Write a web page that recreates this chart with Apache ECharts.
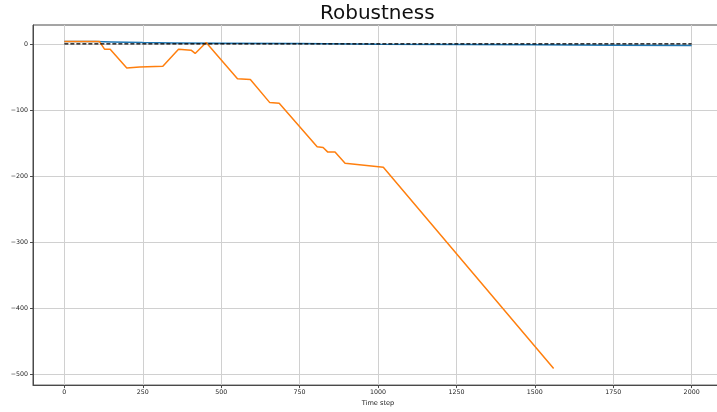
<!DOCTYPE html>
<html>
<head>
<meta charset="utf-8">
<script src="https://cdn.jsdelivr.net/npm/echarts@6/dist/echarts.min.js"></script>
<style>
html,body{margin:0;padding:0;background:#fff;overflow:hidden;}
#chart{width:740px;height:412px;}
</style>
</head>
<body>
<div id="chart"></div>
<script>
var titleText = "Robustness";
var xAxisName = "Time step";
var xTicks = [0, 250, 500, 750, 1000, 1250, 1500, 1750, 2000];
var yTicks = [-500, -400, -300, -200, -100, 0];

var blueX = [0, 100, 150, 250, 350, 500, 750, 1000, 1250, 1500, 1750, 2000];
var blueY = [3.5, 3.5, 3, 2, 1.5, 1, 0.5, -0.5, -1, -1.5, -2, -2.5];

var orangeX = [0, 112, 128, 146, 199, 240, 314, 364, 404, 417, 452, 552, 593, 655, 685, 806, 825, 840, 863, 895, 1017, 1560];
var orangeY = [3.5, 3.5, -8, -8, -36.5, -35, -34, -8, -9.5, -14.5, 2, -53, -54, -89, -90, -156, -157, -164, -164, -181, -187, -492];

var refX = [0, 2000];
var refY = [0, 0];

function pairs(xs, ys) {
  var out = [];
  for (var i = 0; i < xs.length; i++) out.push([xs[i], ys[i]]);
  return out;
}
function fmt(v) { return v < 0 ? '\u2212' + Math.abs(v) : String(v); }

var font = "DejaVu Sans";
var chart = echarts.init(document.getElementById('chart'), null, {renderer: 'canvas'});
chart.setOption({
  animation: false,
  backgroundColor: '#ffffff',
  title: {
    text: titleText,
    left: 320,
    top: 4,
    padding: 0,
    textStyle: {fontFamily: font, fontSize: 20, fontWeight: 'normal', color: '#111'}
  },
  grid: {
    left: 33,
    top: 25,
    width: 690,
    height: 362,
    show: true,
    borderColor: '#4a4a4a',
    borderWidth: 1,
    containLabel: false
  },
  xAxis: {
    type: 'value',
    min: -100,
    max: 2100,
    name: xAxisName,
    nameLocation: 'middle',
    nameGap: 12,
    nameTextStyle: {fontFamily: font, fontSize: 6.6, color: '#222'},
    axisLine: {show: true, onZero: false, lineStyle: {color: '#4a4a4a', width: 1}},
    axisTick: {show: true, length: 3, customValues: xTicks, lineStyle: {color: '#4a4a4a'}},
    axisLabel: {customValues: xTicks, margin: 4, fontFamily: font, fontSize: 6.3, color: '#222', formatter: fmt},
    splitLine: {show: true, lineStyle: {color: '#d0d0d0', width: 1}}
  },
  yAxis: {
    type: 'value',
    min: -517,
    max: 28.6,
    axisLine: {show: true, onZero: false, lineStyle: {color: '#4a4a4a', width: 1}},
    axisTick: {show: true, length: 3, customValues: yTicks, lineStyle: {color: '#4a4a4a'}},
    axisLabel: {customValues: yTicks, margin: 5, fontFamily: font, fontSize: 6.3, color: '#222', formatter: fmt},
    splitLine: {show: true, lineStyle: {color: '#d0d0d0', width: 1}}
  },
  series: [
    {type: 'line', data: pairs(blueX, blueY), showSymbol: false, symbol: 'none',
      lineStyle: {color: '#1f77b4', width: 1.5}, z: 2},
    {type: 'line', data: pairs(orangeX, orangeY), showSymbol: false, symbol: 'none',
      lineStyle: {color: '#ff7f0e', width: 1.5}, z: 3},
    {type: 'line', data: pairs(refX, refY), showSymbol: false, symbol: 'none',
      lineStyle: {color: '#000000', width: 1.2, type: [4, 2]}, z: 4}
  ]
});
</script>
</body>
</html>
